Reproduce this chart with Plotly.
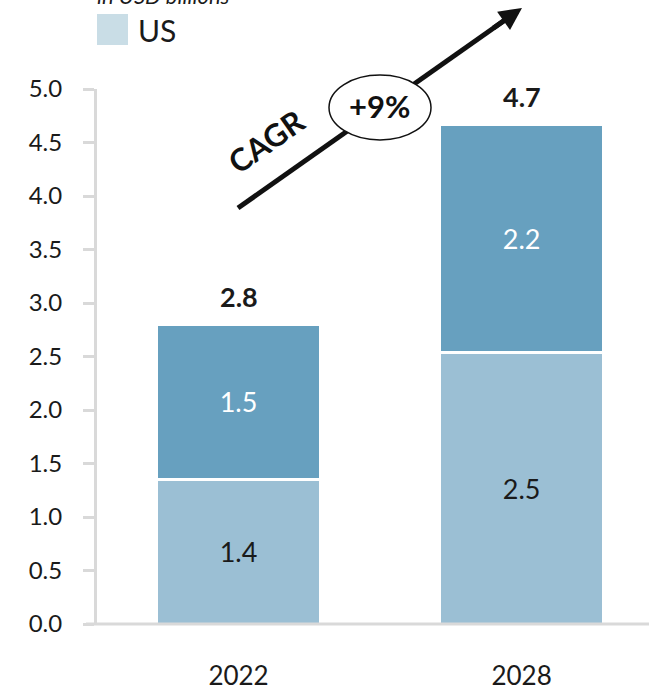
import plotly.graph_objects as go

years = ["2022", "2028"]
lower_vals = [1.35, 2.54]
upper_vals = [1.45, 2.13]
lower_labels = ["1.4", "2.5"]
upper_labels = ["1.5", "2.2"]
total_labels = ["2.8", "4.7"]
totals = [2.8, 4.67]
yticks = [0, 0.5, 1, 1.5, 2, 2.5, 3, 3.5, 4, 4.5, 5]

FONT = "Lato"
W, H = 649, 691
L, R, T, B = 97, 0, 89, 67
pw, ph = W - L - R, H - T - B

def px(x):
    return (x - L) / pw

def py(y):
    return (H - B - y) / ph

fig = go.Figure()
fig.add_trace(go.Bar(
    x=years, y=lower_vals, text=lower_labels, textposition="inside",
    insidetextanchor="middle", textfont=dict(size=27, color="#1a1a1a", family=FONT),
    marker=dict(color="#9bbfd4", line=dict(color="white", width=3)),
    width=0.58, name="US", showlegend=False,
))
fig.add_trace(go.Bar(
    x=years, y=upper_vals, text=upper_labels, textposition="inside",
    insidetextanchor="middle", textfont=dict(size=27, color="white", family=FONT),
    marker=dict(color="#67a0bf", line=dict(color="white", width=3)),
    width=0.58, name="Other", showlegend=False,
))

for i, (tot, lab) in enumerate(zip(totals, total_labels)):
    fig.add_annotation(x=i, y=tot, xref="x", yref="y", text="<b>%s</b>" % lab,
                       showarrow=False, xanchor="center", yanchor="bottom", yshift=9,
                       font=dict(size=27, color="#1a1a1a", family=FONT))

shapes = []
shapes.append(dict(type="line", xref="paper", yref="paper", x0=px(86), x1=1.0,
                   y0=0, y1=0, line=dict(color="#d9d9d9", width=3), layer="above"))
shapes.append(dict(type="line", xref="paper", yref="paper",
                   x0=px(238), y0=py(208), x1=px(505), y1=py(20),
                   line=dict(color="#111111", width=5)))
shapes.append(dict(type="circle", xref="paper", yref="paper",
                   x0=px(329), x1=px(431), y0=py(140), y1=py(75),
                   line=dict(color="#111111", width=1.5), fillcolor="white"))
shapes.append(dict(type="rect", xref="paper", yref="paper",
                   x0=px(97), x1=px(128), y0=py(45), y1=py(14),
                   line=dict(width=0), fillcolor="#c9dde6"))
fig.update_layout(shapes=shapes)

fig.add_annotation(xref="paper", yref="paper", x=px(522), y=py(8),
                   ax=-30, ay=21, axref="pixel", ayref="pixel",
                   showarrow=True, arrowhead=2, arrowsize=0.9, arrowwidth=5,
                   arrowcolor="#111111", text="")
fig.add_annotation(xref="paper", yref="paper", x=px(380), y=py(106),
                   xanchor="center", yanchor="middle",
                   text="<b>+9%</b>", showarrow=False,
                   font=dict(size=31, color="#111111", family=FONT))
fig.add_annotation(xref="paper", yref="paper", x=px(266), y=py(141),
                   xanchor="center", yanchor="middle",
                   text="<b>CAGR</b>", showarrow=False, textangle=-35,
                   font=dict(size=31, color="#111111", family=FONT))
fig.add_annotation(xref="paper", yref="paper", x=px(136), y=py(30),
                   xanchor="left", yanchor="middle",
                   text="US", showarrow=False,
                   font=dict(size=30, color="#1a1a1a", family=FONT))
fig.add_annotation(xref="paper", yref="paper", x=px(95), y=py(11),
                   text="<i>in USD billions</i>", showarrow=False,
                   xanchor="left", yanchor="bottom",
                   font=dict(size=22, color="#1a1a1a", family=FONT))

fig.update_layout(
    width=W, height=H, barmode="stack",
    margin=dict(l=L, r=R, t=T, b=B),
    plot_bgcolor="white", paper_bgcolor="white",
    font=dict(family=FONT, color="#1a1a1a"),
    xaxis=dict(type="category", range=[-0.5, 1.45], showline=False,
               ticks="", tickfont=dict(size=26), ticklabelstandoff=34,
               showgrid=False, zeroline=False),
    yaxis=dict(range=[0, 5], tickvals=yticks, tickformat=".1f",
               showline=True, linecolor="#d9d9d9", linewidth=3,
               ticks="outside", ticklen=11, tickwidth=3, tickcolor="#d9d9d9",
               tickfont=dict(size=24), ticklabelstandoff=16,
               showgrid=False, zeroline=False),
    showlegend=False,
)

fig.write_html("out.html")
